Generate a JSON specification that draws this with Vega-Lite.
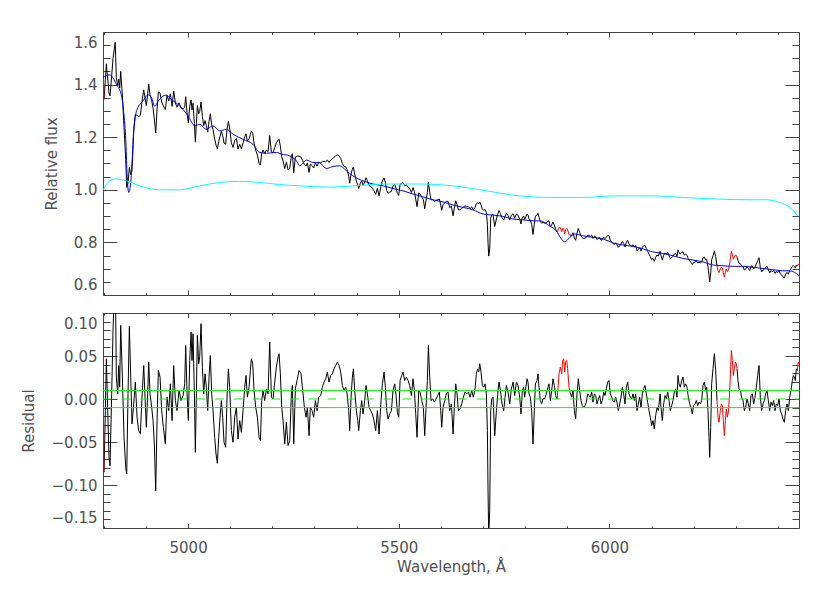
{
"$schema": "https://vega.github.io/schema/vega-lite/v6.json",
"background": "white",
"padding": {"left": 20, "top": 31, "right": 5, "bottom": 5},
"spacing": 16,
"config": {
"view": {"stroke": "#444444", "strokeWidth": 1},
"axis": {"domain": false, "grid": false, "tickColor": "#444444", "tickWidth": 1, "labelColor": "#505050", "titleColor": "#505050", "labelFont": "DejaVu Sans", "titleFont": "DejaVu Sans", "labelFontSize": 15, "titleFontSize": 15, "titleFontWeight": "normal", "labelOverlap": false}
},
"datasets": {
"obs": [
{"w":4798,"f":1.460,"r":0.033,"s":1},{"w":4800.5,"f":1.344,"r":-0.085,"s":1},
{"w":4800.5,"f":1.344,"r":-0.085,"s":2},{"w":4803.6,"f":1.418,"r":-0.0135,"s":2},{"w":4806.0,"f":1.479,"r":0.0468,"s":2},{"w":4809.2,"f":1.421,"r":-0.0135,"s":2},{"w":4812.3,"f":1.368,"r":-0.068,"s":2},{"w":4814.7,"f":1.357,"r":-0.0776,"s":2},{"w":4818.6,"f":1.433,"r":0.006,"s":2},{"w":4821.8,"f":1.499,"r":0.080,"s":2},{"w":4827.0,"f":1.561,"r":0.153,"s":2},{"w":4829.7,"f":1.427,"r":0.0254,"s":2},
{"w":4832.9,"f":1.396,"r":0.006,"s":2},{"w":4835.3,"f":1.421,"r":0.039,"s":2},{"w":4837.6,"f":1.387,"r":0.0137,"s":2},{"w":4840.0,"f":1.450,"r":0.0856,"s":2},{"w":4844.0,"f":1.357,"r":0.0254,"s":2},{"w":4847.9,"f":1.238,"r":-0.0445,"s":2},{"w":4851.9,"f":1.115,"r":-0.0795,"s":2},{"w":4854.3,"f":1.009,"r":-0.0873,"s":2},{"w":4857.4,"f":1.027,"r":0.006,"s":2},{"w":4860.6,"f":1.085,"r":0.0845,"s":2},
{"w":4863.8,"f":1.058,"r":0.0254,"s":2},{"w":4866.9,"f":1.073,"r":-0.029,"s":2},{"w":4870.9,"f":1.221,"r":-0.0057,"s":2},{"w":4874.8,"f":1.286,"r":0.0196,"s":2},{"w":4878.8,"f":1.283,"r":-0.0212,"s":2},{"w":4882.7,"f":1.278,"r":-0.0368,"s":2},{"w":4886.7,"f":1.283,"r":-0.0406,"s":2},{"w":4890.6,"f":1.335,"r":0.0021,"s":2},{"w":4894.6,"f":1.380,"r":0.039,"s":2},{"w":4897.8,"f":1.349,"r":0.0021,"s":2},
{"w":4900.9,"f":1.320,"r":-0.0329,"s":2},{"w":4904.1,"f":1.365,"r":0.006,"s":2},{"w":4906.5,"f":1.402,"r":0.0429,"s":2},{"w":4909.6,"f":1.361,"r":0.006,"s":2},{"w":4913.6,"f":1.339,"r":-0.0096,"s":2},{"w":4916.8,"f":1.310,"r":-0.0251,"s":2},{"w":4919.9,"f":1.269,"r":-0.0523,"s":2},{"w":4923.1,"f":1.216,"r":-0.1067,"s":2},{"w":4926.3,"f":1.306,"r":-0.0251,"s":2},{"w":4929.4,"f":1.372,"r":0.0332,"s":2},
{"w":4933.4,"f":1.368,"r":0.0254,"s":2},{"w":4937.3,"f":1.334,"r":-0.0135,"s":2},{"w":4941.3,"f":1.319,"r":-0.0329,"s":2},{"w":4946.0,"f":1.305,"r":-0.0523,"s":2},{"w":4950.0,"f":1.359,"r":0.0021,"s":2},{"w":4954.0,"f":1.338,"r":-0.0135,"s":2},{"w":4957.9,"f":1.365,"r":0.0176,"s":2},{"w":4961.9,"f":1.317,"r":-0.0251,"s":2},{"w":4965.8,"f":1.376,"r":0.039,"s":2},{"w":4969.8,"f":1.330,"r":-0.0018,"s":2},
{"w":4973.7,"f":1.314,"r":-0.0135,"s":2},{"w":4978.5,"f":1.331,"r":0.0099,"s":2},{"w":4983.2,"f":1.311,"r":-0.0018,"s":2},{"w":4988.0,"f":1.308,"r":0.004,"s":2},{"w":4991.9,"f":1.314,"r":0.0176,"s":2},{"w":4994.3,"f":1.354,"r":0.0623,"s":2},{"w":4997.5,"f":1.292,"r":0.006,"s":2},{"w":5000.6,"f":1.255,"r":-0.0251,"s":2},{"w":5003.8,"f":1.317,"r":0.0448,"s":2},{"w":5007.0,"f":1.342,"r":0.0778,"s":2},
{"w":5009.3,"f":1.304,"r":0.0448,"s":2},{"w":5011.7,"f":1.329,"r":0.0759,"s":2},{"w":5014.9,"f":1.252,"r":0.006,"s":2},{"w":5017.2,"f":1.182,"r":-0.062,"s":2},{"w":5019.6,"f":1.251,"r":0.006,"s":2},{"w":5022.0,"f":1.320,"r":0.074,"s":2},{"w":5025.1,"f":1.289,"r":0.041,"s":2},{"w":5027.5,"f":1.298,"r":0.0487,"s":2},{"w":5030.7,"f":1.334,"r":0.0876,"s":2},{"w":5033.9,"f":1.279,"r":0.037,"s":2},
{"w":5037.0,"f":1.244,"r":0.006,"s":2},{"w":5040.2,"f":1.263,"r":0.0293,"s":2},{"w":5043.3,"f":1.244,"r":0.0137,"s":2},{"w":5046.5,"f":1.219,"r":-0.0135,"s":2},{"w":5049.7,"f":1.260,"r":0.0254,"s":2},{"w":5052.8,"f":1.289,"r":0.0507,"s":2},{"w":5056.0,"f":1.247,"r":0.006,"s":2},{"w":5059.2,"f":1.229,"r":-0.0135,"s":2},{"w":5063.1,"f":1.194,"r":-0.0445,"s":2},{"w":5066.3,"f":1.170,"r":-0.064,"s":2},
{"w":5069.4,"f":1.156,"r":-0.0748,"s":2},{"w":5072.6,"f":1.183,"r":-0.0445,"s":2},{"w":5075.8,"f":1.203,"r":-0.0212,"s":2},{"w":5078.9,"f":1.223,"r":-0.0018,"s":2},{"w":5082.1,"f":1.206,"r":-0.0212,"s":2},{"w":5085.3,"f":1.178,"r":-0.0503,"s":2},{"w":5089.2,"f":1.173,"r":-0.0562,"s":2},{"w":5092.4,"f":1.230,"r":0.0021,"s":2},{"w":5095.6,"f":1.260,"r":0.0351,"s":2},{"w":5098.7,"f":1.235,"r":0.0137,"s":2},
{"w":5102.7,"f":1.179,"r":-0.0368,"s":2},{"w":5106.6,"f":1.161,"r":-0.0503,"s":2},{"w":5110.6,"f":1.187,"r":-0.0212,"s":2},{"w":5114.6,"f":1.195,"r":-0.0096,"s":2},{"w":5118.5,"f":1.155,"r":-0.0465,"s":2},{"w":5122.5,"f":1.173,"r":-0.0251,"s":2},{"w":5126.5,"f":1.156,"r":-0.0387,"s":2},{"w":5130.4,"f":1.178,"r":-0.0135,"s":2},{"w":5134.4,"f":1.202,"r":0.0137,"s":2},{"w":5137.5,"f":1.213,"r":0.0273,"s":2},
{"w":5140.7,"f":1.185,"r":0.0021,"s":2},{"w":5144.7,"f":1.194,"r":0.0137,"s":2},{"w":5147.8,"f":1.211,"r":0.0332,"s":2},{"w":5150.2,"f":1.223,"r":0.0468,"s":2},{"w":5153.4,"f":1.215,"r":0.041,"s":2},{"w":5156.5,"f":1.178,"r":0.0099,"s":2},{"w":5160.5,"f":1.150,"r":-0.0096,"s":2},{"w":5164.4,"f":1.132,"r":-0.0212,"s":2},{"w":5168.4,"f":1.101,"r":-0.0445,"s":2},{"w":5171.6,"f":1.094,"r":-0.0484,"s":2},
{"w":5174.7,"f":1.139,"r":-0.0018,"s":2},{"w":5177.9,"f":1.151,"r":0.0099,"s":2},{"w":5181.8,"f":1.138,"r":-0.0018,"s":2},{"w":5185.8,"f":1.151,"r":0.0118,"s":2},{"w":5189.8,"f":1.145,"r":0.006,"s":2},{"w":5193.7,"f":1.206,"r":0.0662,"s":2},{"w":5197.7,"f":1.143,"r":0.0021,"s":2},{"w":5201.6,"f":1.141,"r":0.0001,"s":2},{"w":5205.6,"f":1.161,"r":0.0196,"s":2},{"w":5209.5,"f":1.179,"r":0.0371,"s":2},
{"w":5213.5,"f":1.189,"r":0.0487,"s":2},{"w":5215.9,"f":1.192,"r":0.0526,"s":2},{"w":5219.0,"f":1.166,"r":0.0293,"s":2},{"w":5222.2,"f":1.126,"r":-0.0096,"s":2},{"w":5225.4,"f":1.109,"r":-0.0251,"s":2},{"w":5229.3,"f":1.081,"r":-0.0523,"s":2},{"w":5233.3,"f":1.105,"r":-0.027,"s":2},{"w":5237.2,"f":1.076,"r":-0.0542,"s":2},{"w":5241.2,"f":1.081,"r":-0.0484,"s":2},{"w":5245.1,"f":1.130,"r":0.006,"s":2},
{"w":5247.5,"f":1.137,"r":0.0157,"s":2},{"w":5250.7,"f":1.065,"r":-0.0523,"s":2},{"w":5254.6,"f":1.125,"r":0.0118,"s":2},{"w":5258.6,"f":1.128,"r":0.0215,"s":2},{"w":5263.3,"f":1.128,"r":0.0332,"s":2},{"w":5268.1,"f":1.124,"r":0.0293,"s":2},{"w":5272.0,"f":1.111,"r":0.0099,"s":2},{"w":5276.0,"f":1.096,"r":-0.0096,"s":2},{"w":5279.9,"f":1.090,"r":-0.0212,"s":2},{"w":5283.1,"f":1.102,"r":-0.0096,"s":2},
{"w":5287.1,"f":1.066,"r":-0.0426,"s":2},{"w":5290.2,"f":1.098,"r":-0.0096,"s":2},{"w":5294.2,"f":1.092,"r":-0.0135,"s":2},{"w":5298.1,"f":1.083,"r":-0.0212,"s":2},{"w":5302.1,"f":1.102,"r":-0.0018,"s":2},{"w":5306.1,"f":1.090,"r":-0.0135,"s":2},{"w":5310.0,"f":1.105,"r":0.0021,"s":2},{"w":5314.8,"f":1.103,"r":0.004,"s":2},{"w":5318.7,"f":1.108,"r":0.0137,"s":2},{"w":5322.7,"f":1.108,"r":0.0196,"s":2},
{"w":5326.6,"f":1.107,"r":0.0235,"s":2},{"w":5330.6,"f":1.113,"r":0.0312,"s":2},{"w":5334.5,"f":1.104,"r":0.0196,"s":2},{"w":5338.5,"f":1.113,"r":0.0273,"s":2},{"w":5342.4,"f":1.117,"r":0.0293,"s":2},{"w":5346.4,"f":1.124,"r":0.0351,"s":2},{"w":5350.4,"f":1.129,"r":0.039,"s":2},{"w":5354.3,"f":1.133,"r":0.0429,"s":2},{"w":5358.3,"f":1.130,"r":0.039,"s":2},{"w":5362.2,"f":1.119,"r":0.0312,"s":2},
{"w":5366.2,"f":1.100,"r":0.0157,"s":2},{"w":5370.1,"f":1.089,"r":0.0099,"s":2},{"w":5374.1,"f":1.088,"r":0.0137,"s":2},{"w":5377.3,"f":1.076,"r":0.006,"s":2},{"w":5381.2,"f":1.052,"r":-0.0135,"s":2},{"w":5383.6,"f":1.025,"r":-0.0368,"s":2},{"w":5386.8,"f":1.060,"r":0.0021,"s":2},{"w":5389.9,"f":1.079,"r":0.0254,"s":2},{"w":5392.3,"f":1.087,"r":0.0351,"s":2},{"w":5395.5,"f":1.059,"r":0.0099,"s":2},
{"w":5399.4,"f":1.033,"r":-0.0135,"s":2},{"w":5402.6,"f":1.019,"r":-0.0251,"s":2},{"w":5405.0,"f":1.005,"r":-0.0368,"s":2},{"w":5408.9,"f":1.026,"r":-0.0135,"s":2},{"w":5412.1,"f":1.034,"r":-0.0018,"s":2},{"w":5415.2,"f":1.017,"r":-0.0173,"s":2},{"w":5419.2,"f":1.030,"r":-0.0018,"s":2},{"w":5422.4,"f":1.046,"r":0.0157,"s":2},{"w":5425.5,"f":1.035,"r":0.006,"s":2},{"w":5429.5,"f":1.017,"r":-0.0096,"s":2},
{"w":5433.4,"f":1.012,"r":-0.0135,"s":2},{"w":5437.4,"f":1.006,"r":-0.0173,"s":2},{"w":5441.3,"f":0.996,"r":-0.0251,"s":2},{"w":5445.3,"f":0.983,"r":-0.0368,"s":2},{"w":5449.3,"f":1.006,"r":-0.0135,"s":2},{"w":5453.2,"f":0.977,"r":-0.0406,"s":2},{"w":5458.0,"f":1.014,"r":-0.0018,"s":2},{"w":5461.1,"f":1.034,"r":0.0176,"s":2},{"w":5465.1,"f":1.045,"r":0.0312,"s":2},{"w":5468.3,"f":1.027,"r":0.0137,"s":2},
{"w":5471.4,"f":0.998,"r":-0.0135,"s":2},{"w":5474.6,"f":0.987,"r":-0.0232,"s":2},{"w":5478.5,"f":0.991,"r":-0.0173,"s":2},{"w":5482.5,"f":0.994,"r":-0.0135,"s":2},{"w":5486.4,"f":1.015,"r":0.0099,"s":2},{"w":5490.4,"f":1.021,"r":0.0176,"s":2},{"w":5493.6,"f":1.006,"r":0.004,"s":2},{"w":5496.7,"f":0.986,"r":-0.0154,"s":2},{"w":5499.9,"f":0.979,"r":-0.0212,"s":2},{"w":5503.1,"f":1.021,"r":0.0215,"s":2},
{"w":5507.0,"f":1.024,"r":0.0273,"s":2},{"w":5510.2,"f":1.027,"r":0.0312,"s":2},{"w":5514.1,"f":1.016,"r":0.0215,"s":2},{"w":5518.1,"f":1.017,"r":0.0254,"s":2},{"w":5522.1,"f":1.012,"r":0.0215,"s":2},{"w":5526.0,"f":1.004,"r":0.0157,"s":2},{"w":5530.0,"f":0.990,"r":0.004,"s":2},{"w":5533.9,"f":1.008,"r":0.0235,"s":2},{"w":5537.1,"f":0.993,"r":0.0099,"s":2},{"w":5540.3,"f":0.964,"r":-0.0173,"s":2},
{"w":5543.4,"f":0.936,"r":-0.0445,"s":2},{"w":5547.4,"f":0.988,"r":0.0099,"s":2},{"w":5550.5,"f":0.984,"r":0.008,"s":2},{"w":5554.5,"f":0.973,"r":-0.0018,"s":2},{"w":5558.4,"f":0.963,"r":-0.0096,"s":2},{"w":5561.6,"f":0.928,"r":-0.0426,"s":2},{"w":5564.8,"f":0.960,"r":-0.0096,"s":2},{"w":5567.9,"f":0.990,"r":0.0215,"s":2},{"w":5570.3,"f":1.029,"r":0.0623,"s":2},{"w":5573.5,"f":0.991,"r":0.0254,"s":2},
{"w":5576.6,"f":0.962,"r":-0.0018,"s":2},{"w":5580.6,"f":0.962,"r":0.0001,"s":2},{"w":5584.6,"f":0.957,"r":-0.0037,"s":2},{"w":5588.5,"f":0.960,"r":0.0001,"s":2},{"w":5592.5,"f":0.962,"r":0.004,"s":2},{"w":5596.4,"f":0.965,"r":0.008,"s":2},{"w":5599.6,"f":0.942,"r":-0.0135,"s":2},{"w":5602.0,"f":0.922,"r":-0.0329,"s":2},{"w":5605.1,"f":0.944,"r":-0.0096,"s":2},{"w":5609.1,"f":0.950,"r":-0.0018,"s":2},
{"w":5613.0,"f":0.956,"r":0.006,"s":2},{"w":5617.0,"f":0.956,"r":0.008,"s":2},{"w":5621.0,"f":0.932,"r":-0.0135,"s":2},{"w":5624.9,"f":0.938,"r":-0.0057,"s":2},{"w":5628.9,"f":0.901,"r":-0.0406,"s":2},{"w":5632.0,"f":0.931,"r":-0.0096,"s":2},{"w":5635.2,"f":0.958,"r":0.0176,"s":2},{"w":5638.4,"f":0.944,"r":0.006,"s":2},{"w":5641.5,"f":0.924,"r":-0.0135,"s":2},{"w":5645.5,"f":0.924,"r":-0.0115,"s":2},
{"w":5649.4,"f":0.928,"r":-0.0057,"s":2},{"w":5653.4,"f":0.935,"r":0.0021,"s":2},{"w":5657.3,"f":0.939,"r":0.008,"s":2},{"w":5661.3,"f":0.936,"r":0.006,"s":2},{"w":5665.3,"f":0.936,"r":0.008,"s":2},{"w":5669.2,"f":0.929,"r":0.0021,"s":2},{"w":5673.2,"f":0.935,"r":0.0099,"s":2},{"w":5677.1,"f":0.925,"r":0.0021,"s":2},{"w":5681.1,"f":0.933,"r":0.0118,"s":2},{"w":5684.2,"f":0.948,"r":0.0293,"s":2},
{"w":5687.4,"f":0.951,"r":0.0351,"s":2},{"w":5689.8,"f":0.946,"r":0.0312,"s":2},{"w":5692.2,"f":0.954,"r":0.041,"s":2},{"w":5695.3,"f":0.942,"r":0.0312,"s":2},{"w":5698.5,"f":0.925,"r":0.0157,"s":2},{"w":5701.6,"f":0.922,"r":0.0137,"s":2},{"w":5704.8,"f":0.925,"r":0.0176,"s":2},{"w":5708.0,"f":0.913,"r":0.006,"s":2},{"w":5710.4,"f":0.869,"r":-0.0368,"s":2},{"w":5711.9,"f":0.799,"r":-0.1067,"s":2},
{"w":5713.5,"f":0.748,"r":-0.158,"s":2},{"w":5715.9,"f":0.775,"r":-0.130,"s":2},{"w":5718.3,"f":0.892,"r":-0.0135,"s":2},{"w":5720.6,"f":0.905,"r":0.0001,"s":2},{"w":5723.8,"f":0.906,"r":0.0021,"s":2},{"w":5727.8,"f":0.860,"r":-0.0426,"s":2},{"w":5731.7,"f":0.889,"r":-0.0135,"s":2},{"w":5735.7,"f":0.911,"r":0.0099,"s":2},{"w":5738.0,"f":0.921,"r":0.0196,"s":2},{"w":5741.2,"f":0.910,"r":0.0099,"s":2},
{"w":5745.2,"f":0.893,"r":-0.0057,"s":2},{"w":5749.1,"f":0.885,"r":-0.0135,"s":2},{"w":5752.3,"f":0.899,"r":0.0021,"s":2},{"w":5755.5,"f":0.911,"r":0.0157,"s":2},{"w":5759.4,"f":0.902,"r":0.008,"s":2},{"w":5763.4,"f":0.886,"r":-0.0057,"s":2},{"w":5767.3,"f":0.903,"r":0.0118,"s":2},{"w":5771.3,"f":0.909,"r":0.0196,"s":2},{"w":5775.2,"f":0.892,"r":0.004,"s":2},{"w":5779.2,"f":0.908,"r":0.0196,"s":2},
{"w":5783.1,"f":0.903,"r":0.0157,"s":2},{"w":5787.1,"f":0.889,"r":0.0021,"s":2},{"w":5790.2,"f":0.870,"r":-0.0173,"s":2},{"w":5793.3,"f":0.896,"r":0.0099,"s":2},{"w":5796.5,"f":0.900,"r":0.0137,"s":2},{"w":5798.9,"f":0.887,"r":0.0021,"s":2},{"w":5801.2,"f":0.897,"r":0.0118,"s":2},{"w":5804.4,"f":0.908,"r":0.0235,"s":2},{"w":5806.8,"f":0.904,"r":0.0196,"s":2},{"w":5809.2,"f":0.890,"r":0.006,"s":2},
{"w":5812.3,"f":0.885,"r":0.0021,"s":2},{"w":5815.5,"f":0.869,"r":-0.0135,"s":2},{"w":5818.6,"f":0.830,"r":-0.0523,"s":2},{"w":5821.8,"f":0.869,"r":-0.0135,"s":2},{"w":5824.2,"f":0.900,"r":0.0176,"s":2},{"w":5828.1,"f":0.904,"r":0.0215,"s":2},{"w":5830.5,"f":0.911,"r":0.0293,"s":2},{"w":5832.9,"f":0.896,"r":0.0137,"s":2},{"w":5836.1,"f":0.879,"r":-0.0018,"s":2},{"w":5839.2,"f":0.873,"r":-0.0057,"s":2},
{"w":5842.4,"f":0.876,"r":0.0001,"s":2},{"w":5846.3,"f":0.873,"r":0.0001,"s":2},{"w":5850.3,"f":0.875,"r":0.006,"s":2},{"w":5854.3,"f":0.880,"r":0.0137,"s":2},{"w":5856.6,"f":0.882,"r":0.0176,"s":2},{"w":5859.8,"f":0.859,"r":-0.0018,"s":2},{"w":5863.0,"f":0.867,"r":0.0099,"s":2},{"w":5866.1,"f":0.877,"r":0.0235,"s":2},{"w":5869.3,"f":0.866,"r":0.0157,"s":2},{"w":5872.4,"f":0.850,"r":0.004,"s":2},
{"w":5875.6,"f":0.840,"r":0.0001,"s":2},{"w":5876.4,"f":0.840,"r":0.0021,"s":2},
{"w":5876.4,"f":0.840,"r":0.0021,"s":3},{"w":5880.4,"f":0.857,"r":0.0293,"s":3},{"w":5883.5,"f":0.856,"r":0.0371,"s":3},{"w":5886.7,"f":0.841,"r":0.0293,"s":3},{"w":5889.1,"f":0.853,"r":0.0448,"s":3},{"w":5891.4,"f":0.852,"r":0.0468,"s":3},{"w":5893.8,"f":0.833,"r":0.0312,"s":3},{"w":5896.2,"f":0.848,"r":0.0429,"s":3},{"w":5898.6,"f":0.853,"r":0.0448,"s":3},{"w":5900.9,"f":0.847,"r":0.0351,"s":3},{"w":5904.1,"f":0.830,"r":0.0137,"s":3},{"w":5906.5,"f":0.828,"r":0.008,"s":3},
{"w":5906.5,"f":0.828,"r":0.008,"s":4},{"w":5910.4,"f":0.826,"r":0.0021,"s":4},{"w":5913.6,"f":0.837,"r":0.0099,"s":4},{"w":5916.8,"f":0.817,"r":-0.0135,"s":4},{"w":5919.9,"f":0.808,"r":-0.0232,"s":4},{"w":5923.1,"f":0.836,"r":0.006,"s":4},{"w":5926.3,"f":0.853,"r":0.0235,"s":4},{"w":5929.4,"f":0.838,"r":0.0099,"s":4},{"w":5932.6,"f":0.825,"r":-0.0018,"s":4},{"w":5935.7,"f":0.817,"r":-0.0076,"s":4},
{"w":5938.9,"f":0.815,"r":-0.0096,"s":4},{"w":5942.1,"f":0.816,"r":-0.0076,"s":4},{"w":5945.2,"f":0.819,"r":-0.0037,"s":4},{"w":5948.4,"f":0.828,"r":0.006,"s":4},{"w":5951.6,"f":0.826,"r":0.004,"s":4},{"w":5954.7,"f":0.823,"r":0.0021,"s":4},{"w":5957.9,"f":0.828,"r":0.008,"s":4},{"w":5961.1,"f":0.815,"r":-0.0037,"s":4},{"w":5964.2,"f":0.824,"r":0.006,"s":4},{"w":5967.4,"f":0.821,"r":0.004,"s":4},
{"w":5970.6,"f":0.811,"r":-0.0057,"s":4},{"w":5973.7,"f":0.816,"r":0.0001,"s":4},{"w":5976.9,"f":0.819,"r":0.004,"s":4},{"w":5980.1,"f":0.808,"r":-0.0057,"s":4},{"w":5983.2,"f":0.811,"r":-0.0018,"s":4},{"w":5986.4,"f":0.820,"r":0.008,"s":4},{"w":5989.5,"f":0.814,"r":0.004,"s":4},{"w":5992.7,"f":0.820,"r":0.0118,"s":4},{"w":5995.9,"f":0.826,"r":0.0196,"s":4},{"w":5999.0,"f":0.826,"r":0.0215,"s":4},
{"w":6002.2,"f":0.808,"r":0.006,"s":4},{"w":6005.4,"f":0.802,"r":0.0021,"s":4},{"w":6008.5,"f":0.796,"r":-0.0018,"s":4},{"w":6011.7,"f":0.793,"r":-0.0037,"s":4},{"w":6014.9,"f":0.798,"r":0.0021,"s":4},{"w":6018.0,"f":0.791,"r":-0.0037,"s":4},{"w":6021.2,"f":0.781,"r":-0.0135,"s":4},{"w":6024.4,"f":0.787,"r":-0.0057,"s":4},{"w":6027.5,"f":0.794,"r":0.0021,"s":4},{"w":6030.7,"f":0.804,"r":0.0137,"s":4},
{"w":6033.8,"f":0.796,"r":0.006,"s":4},{"w":6037.0,"f":0.783,"r":-0.0057,"s":4},{"w":6040.2,"f":0.802,"r":0.0137,"s":4},{"w":6043.3,"f":0.808,"r":0.0196,"s":4},{"w":6046.5,"f":0.793,"r":0.006,"s":4},{"w":6049.7,"f":0.788,"r":0.0021,"s":4},{"w":6052.8,"f":0.786,"r":0.0001,"s":4},{"w":6056.0,"f":0.791,"r":0.006,"s":4},{"w":6059.2,"f":0.782,"r":-0.0018,"s":4},{"w":6062.3,"f":0.788,"r":0.006,"s":4},
{"w":6065.5,"f":0.768,"r":-0.0135,"s":4},{"w":6068.7,"f":0.774,"r":-0.0057,"s":4},{"w":6071.8,"f":0.780,"r":0.0021,"s":4},{"w":6075.0,"f":0.767,"r":-0.0096,"s":4},{"w":6078.2,"f":0.782,"r":0.006,"s":4},{"w":6081.3,"f":0.786,"r":0.0118,"s":4},{"w":6084.5,"f":0.789,"r":0.0157,"s":4},{"w":6087.7,"f":0.777,"r":0.006,"s":4},{"w":6090.8,"f":0.766,"r":-0.0037,"s":4},{"w":6094.0,"f":0.755,"r":-0.0135,"s":4},
{"w":6097.1,"f":0.746,"r":-0.0212,"s":4},{"w":6100.3,"f":0.734,"r":-0.0309,"s":4},{"w":6103.5,"f":0.739,"r":-0.0251,"s":4},{"w":6106.6,"f":0.728,"r":-0.0348,"s":4},{"w":6109.8,"f":0.743,"r":-0.0193,"s":4},{"w":6113.0,"f":0.752,"r":-0.0096,"s":4},{"w":6116.1,"f":0.748,"r":-0.0135,"s":4},{"w":6120.3,"f":0.766,"r":0.006,"s":4},{"w":6122.5,"f":0.749,"r":-0.0096,"s":4},{"w":6125.6,"f":0.733,"r":-0.0251,"s":4},
{"w":6128.8,"f":0.751,"r":-0.0057,"s":4},{"w":6132.0,"f":0.760,"r":0.004,"s":4},{"w":6135.1,"f":0.755,"r":0.0001,"s":4},{"w":6138.3,"f":0.762,"r":0.008,"s":4},{"w":6141.5,"f":0.750,"r":-0.0018,"s":4},{"w":6144.6,"f":0.738,"r":-0.0135,"s":4},{"w":6147.8,"f":0.742,"r":-0.0076,"s":4},{"w":6150.9,"f":0.747,"r":-0.0018,"s":4},{"w":6154.1,"f":0.756,"r":0.008,"s":4},{"w":6157.3,"f":0.758,"r":0.0118,"s":4},
{"w":6160.4,"f":0.747,"r":0.0021,"s":4},{"w":6162.8,"f":0.771,"r":0.0273,"s":4},{"w":6165.2,"f":0.761,"r":0.0176,"s":4},{"w":6168.4,"f":0.756,"r":0.0137,"s":4},{"w":6171.5,"f":0.762,"r":0.0215,"s":4},{"w":6174.7,"f":0.764,"r":0.0254,"s":4},{"w":6177.8,"f":0.752,"r":0.0137,"s":4},{"w":6181.0,"f":0.755,"r":0.0176,"s":4},{"w":6184.2,"f":0.751,"r":0.0137,"s":4},{"w":6187.3,"f":0.738,"r":0.0021,"s":4},
{"w":6190.5,"f":0.729,"r":-0.0057,"s":4},{"w":6193.7,"f":0.724,"r":-0.0096,"s":4},{"w":6196.8,"f":0.716,"r":-0.0173,"s":4},{"w":6200.0,"f":0.724,"r":-0.0076,"s":4},{"w":6203.2,"f":0.725,"r":-0.0057,"s":4},{"w":6206.3,"f":0.729,"r":-0.0018,"s":4},{"w":6209.5,"f":0.722,"r":-0.0076,"s":4},{"w":6212.7,"f":0.725,"r":-0.0037,"s":4},{"w":6215.8,"f":0.722,"r":-0.0057,"s":4},{"w":6219.0,"f":0.725,"r":-0.0018,"s":4},
{"w":6222.2,"f":0.742,"r":0.0157,"s":4},{"w":6225.3,"f":0.744,"r":0.0196,"s":4},{"w":6228.5,"f":0.733,"r":0.0099,"s":4},{"w":6230.9,"f":0.736,"r":0.0137,"s":4},{"w":6234.0,"f":0.707,"r":-0.0135,"s":4},{"w":6236.4,"f":0.675,"r":-0.0445,"s":4},{"w":6238.0,"f":0.650,"r":-0.068,"s":4},{"w":6240.4,"f":0.684,"r":-0.0329,"s":4},{"w":6242.7,"f":0.734,"r":0.0176,"s":4},{"w":6245.9,"f":0.749,"r":0.0351,"s":4},
{"w":6249.1,"f":0.767,"r":0.0526,"s":4},{"w":6252.2,"f":0.746,"r":0.0332,"s":4},{"w":6255.4,"f":0.711,"r":-0.0018,"s":4},
{"w":6255.4,"f":0.711,"r":-0.0018,"s":5},{"w":6257.8,"f":0.692,"r":-0.0212,"s":5},{"w":6260.1,"f":0.685,"r":-0.027,"s":5},{"w":6263.3,"f":0.699,"r":-0.0135,"s":5},{"w":6265.7,"f":0.706,"r":-0.0057,"s":5},{"w":6268.0,"f":0.703,"r":-0.0076,"s":5},{"w":6270.4,"f":0.686,"r":-0.0251,"s":5},{"w":6272.8,"f":0.668,"r":-0.0426,"s":5},{"w":6275.2,"f":0.686,"r":-0.0251,"s":5},{"w":6277.5,"f":0.699,"r":-0.0115,"s":5},
{"w":6279.9,"f":0.689,"r":-0.0212,"s":5},{"w":6282.3,"f":0.695,"r":-0.0154,"s":5},{"w":6284.7,"f":0.712,"r":0.0021,"s":5},{"w":6287.0,"f":0.735,"r":0.0254,"s":5},{"w":6289.4,"f":0.766,"r":0.0565,"s":5},{"w":6291.8,"f":0.754,"r":0.0448,"s":5},{"w":6294.2,"f":0.736,"r":0.0273,"s":5},{"w":6296.5,"f":0.744,"r":0.0351,"s":5},{"w":6298.9,"f":0.752,"r":0.0429,"s":5},{"w":6301.3,"f":0.750,"r":0.041,"s":5},{"w":6302.9,"f":0.744,"r":0.0351,"s":5},
{"w":6302.9,"f":0.744,"r":0.0351,"s":6},{"w":6305.2,"f":0.731,"r":0.0215,"s":6},{"w":6307.6,"f":0.721,"r":0.0118,"s":6},{"w":6310.8,"f":0.719,"r":0.0099,"s":6},{"w":6313.9,"f":0.711,"r":0.0021,"s":6},{"w":6317.1,"f":0.707,"r":-0.0018,"s":6},{"w":6320.3,"f":0.695,"r":-0.0135,"s":6},{"w":6323.4,"f":0.698,"r":-0.0096,"s":6},{"w":6326.6,"f":0.707,"r":0.0001,"s":6},{"w":6329.8,"f":0.701,"r":-0.0057,"s":6},
{"w":6332.9,"f":0.693,"r":-0.0135,"s":6},{"w":6336.1,"f":0.710,"r":0.004,"s":6},{"w":6339.2,"f":0.711,"r":0.006,"s":6},{"w":6342.4,"f":0.699,"r":-0.0057,"s":6},{"w":6345.6,"f":0.706,"r":0.0021,"s":6},{"w":6348.7,"f":0.718,"r":0.0137,"s":6},{"w":6351.9,"f":0.730,"r":0.0273,"s":6},{"w":6355.1,"f":0.742,"r":0.039,"s":6},{"w":6358.2,"f":0.704,"r":0.0021,"s":6},{"w":6361.4,"f":0.688,"r":-0.0135,"s":6},
{"w":6364.6,"f":0.695,"r":-0.0057,"s":6},{"w":6367.7,"f":0.698,"r":-0.0018,"s":6},{"w":6370.9,"f":0.706,"r":0.006,"s":6},{"w":6374.1,"f":0.709,"r":0.0099,"s":6},{"w":6377.2,"f":0.696,"r":-0.0018,"s":6},{"w":6380.4,"f":0.684,"r":-0.0135,"s":6},{"w":6383.6,"f":0.693,"r":-0.0037,"s":6},{"w":6386.7,"f":0.688,"r":-0.0076,"s":6},{"w":6389.9,"f":0.694,"r":-0.0018,"s":6},{"w":6393.1,"f":0.682,"r":-0.0135,"s":6},
{"w":6396.2,"f":0.689,"r":-0.0057,"s":6},{"w":6399.4,"f":0.686,"r":-0.0076,"s":6},{"w":6402.5,"f":0.694,"r":0.0001,"s":6},{"w":6405.7,"f":0.680,"r":-0.0135,"s":6},{"w":6408.9,"f":0.676,"r":-0.0173,"s":6},{"w":6412.0,"f":0.669,"r":-0.0232,"s":6},{"w":6415.2,"f":0.665,"r":-0.027,"s":6},{"w":6418.4,"f":0.679,"r":-0.0135,"s":6},{"w":6421.5,"f":0.686,"r":-0.0057,"s":6},{"w":6424.7,"f":0.679,"r":-0.0135,"s":6},
{"w":6427.9,"f":0.694,"r":0.0021,"s":6},{"w":6431.0,"f":0.700,"r":0.0099,"s":6},{"w":6434.2,"f":0.709,"r":0.0215,"s":6},{"w":6436.6,"f":0.712,"r":0.0273,"s":6},{"w":6438.9,"f":0.708,"r":0.0254,"s":6},{"w":6441.3,"f":0.703,"r":0.0215,"s":6},{"w":6443.7,"f":0.714,"r":0.0351,"s":6},{"w":6446.1,"f":0.710,"r":0.0332,"s":6},
{"w":6446.1,"f":0.710,"r":0.0332,"s":7},{"w":6448.5,"f":0.718,"r":0.0429,"s":7},{"w":6449.5,"f":0.715,"r":0.041,"s":7}
],
"model": [
{"w":4798,"f":1.427},{"w":4814,"f":1.437},{"w":4830,"f":1.401},{"w":4842,"f":1.357},{"w":4848,"f":1.281},{"w":4852,"f":1.192},{"w":4855,"f":1.067},{"w":4859,"f":0.990},{"w":4863,"f":1.015},{"w":4867,"f":1.105},{"w":4871,"f":1.230},{"w":4879,"f":1.306},{"w":4893,"f":1.338},{"w":4905,"f":1.361},{"w":4913,"f":1.351},{"w":4921,"f":1.317},{"w":4929,"f":1.338},{"w":4948,"f":1.360},{"w":4960,"f":1.344},{"w":4980,"f":1.319},
{"w":5000,"f":1.281},{"w":5016,"f":1.243},{"w":5028,"f":1.249},{"w":5043,"f":1.230},{"w":5059,"f":1.243},{"w":5075,"f":1.224},{"w":5091,"f":1.230},{"w":5107,"f":1.211},{"w":5130,"f":1.192},{"w":5154,"f":1.173},{"w":5170,"f":1.142},{"w":5186,"f":1.139},{"w":5210,"f":1.142},{"w":5221,"f":1.136},{"w":5241,"f":1.129},{"w":5257,"f":1.110},{"w":5265,"f":1.091},{"w":5281,"f":1.113},{"w":5296,"f":1.104},{"w":5312,"f":1.103},
{"w":5328,"f":1.081},{"w":5344,"f":1.089},{"w":5360,"f":1.091},{"w":5376,"f":1.072},{"w":5391,"f":1.053},{"w":5415,"f":1.034},{"w":5439,"f":1.022},{"w":5463,"f":1.015},{"w":5486,"f":1.005},{"w":5510,"f":0.996},{"w":5534,"f":0.984},{"w":5558,"f":0.973},{"w":5581,"f":0.962},{"w":5605,"f":0.954},{"w":5629,"f":0.942},{"w":5653,"f":0.933},{"w":5676,"f":0.924},{"w":5700,"f":0.908},{"w":5724,"f":0.904},{"w":5747,"f":0.899},
{"w":5771,"f":0.889},{"w":5795,"f":0.886},{"w":5819,"f":0.882},{"w":5835,"f":0.882},{"w":5858,"f":0.863},{"w":5874,"f":0.844},{"w":5886,"f":0.813},{"w":5894,"f":0.802},{"w":5906,"f":0.819},{"w":5918,"f":0.832},{"w":5937,"f":0.825},{"w":5961,"f":0.819},{"w":5985,"f":0.813},{"w":6009,"f":0.798},{"w":6032,"f":0.790},{"w":6056,"f":0.785},{"w":6080,"f":0.775},{"w":6103,"f":0.764},{"w":6127,"f":0.758},{"w":6151,"f":0.749},
{"w":6175,"f":0.739},{"w":6198,"f":0.733},{"w":6222,"f":0.726},{"w":6246,"f":0.714},{"w":6270,"f":0.711},{"w":6293,"f":0.709},{"w":6317,"f":0.709},{"w":6341,"f":0.705},{"w":6365,"f":0.701},{"w":6388,"f":0.696},{"w":6412,"f":0.692},{"w":6428,"f":0.692},{"w":6450,"f":0.674}
],
"poly": [
{"w":4798,"f":0.999},{"w":4814,"f":1.034},{"w":4830,"f":1.041},{"w":4854,"f":1.034},{"w":4885,"f":1.015},{"w":4933,"f":1.000},{"w":4980,"f":1.000},{"w":5028,"f":1.015},{"w":5075,"f":1.028},{"w":5122,"f":1.032},{"w":5170,"f":1.028},{"w":5217,"f":1.020},{"w":5265,"f":1.015},{"w":5336,"f":1.010},{"w":5391,"f":1.015},{"w":5471,"f":1.022},{"w":5550,"f":1.022},{"w":5629,"f":1.015},{"w":5708,"f":0.996},{"w":5787,"f":0.977},
{"w":5858,"f":0.971},{"w":5937,"f":0.971},{"w":6017,"f":0.977},{"w":6096,"f":0.977},{"w":6175,"f":0.971},{"w":6254,"f":0.965},{"w":6333,"f":0.962},{"w":6373,"f":0.962},{"w":6404,"f":0.952},{"w":6428,"f":0.933},{"w":6448,"f":0.899}
]
},
"vconcat": [
{
"width": 696, "height": 263,
"resolve": {"axis": {"x": "independent", "y": "independent"}},
"layer": [
{"data": {"name": "obs"}, "transform": [{"filter": "datum.s % 2 == 0"}],
 "mark": {"type": "line", "color": "#000000", "strokeWidth": 1, "clip": true},
 "encoding": {
  "x": {"field": "w", "type": "quantitative", "scale": {"domain": [4798, 6450], "nice": false, "zero": false}, "axis": {"orient": "bottom", "values": [5000, 5500, 6000], "labels": false, "title": null, "tickSize": 5, "offset": -5}},
  "y": {"field": "f", "type": "quantitative", "scale": {"domain": [0.6, 1.6], "nice": false, "zero": false}, "axis": {"orient": "left", "values": [0.6, 0.8, 1.0, 1.2, 1.4, 1.6], "format": ".1f", "tickSize": 14, "offset": -14, "labelPadding": 6, "labelFlush": true, "labelFlushOffset": -3, "title": "Relative flux", "titlePadding": 14}},
  "detail": {"field": "s", "type": "nominal"}
 }},
{"data": {"name": "obs"}, "transform": [{"filter": "datum.s % 2 == 1"}],
 "mark": {"type": "line", "color": "#ff0000", "strokeWidth": 1, "clip": true},
 "encoding": {
  "x": {"field": "w", "type": "quantitative", "axis": {"orient": "bottom", "values": [4800, 4900, 5100, 5200, 5300, 5400, 5600, 5700, 5800, 5900, 6100, 6200, 6300, 6400], "labels": false, "title": null, "tickSize": 2.5, "offset": -2.5}},
  "y": {"field": "f", "type": "quantitative", "axis": {"orient": "left", "values": [0.65, 0.7, 0.75, 0.85, 0.9, 0.95, 1.05, 1.1, 1.15, 1.25, 1.3, 1.35, 1.45, 1.5, 1.55], "labels": false, "title": null, "tickSize": 7, "offset": -7}},
  "detail": {"field": "s", "type": "nominal"}
 }},
{"data": {"name": "model"},
 "mark": {"type": "line", "color": "#0000ff", "strokeWidth": 1, "interpolate": "monotone", "clip": true},
 "encoding": {
  "x": {"field": "w", "type": "quantitative", "axis": {"orient": "top", "values": [5000, 5500, 6000], "labels": false, "title": null, "tickSize": 5, "offset": -5}},
  "y": {"field": "f", "type": "quantitative", "axis": {"orient": "right", "values": [0.6, 0.8, 1.0, 1.2, 1.4, 1.6], "labels": false, "title": null, "tickSize": 14, "offset": -14}}
 }},
{"data": {"name": "poly"},
 "mark": {"type": "line", "color": "#00ffff", "strokeWidth": 1, "interpolate": "monotone", "clip": true},
 "encoding": {
  "x": {"field": "w", "type": "quantitative", "axis": {"orient": "top", "values": [4800, 4900, 5100, 5200, 5300, 5400, 5600, 5700, 5800, 5900, 6100, 6200, 6300, 6400], "labels": false, "title": null, "tickSize": 2.5, "offset": -2.5}},
  "y": {"field": "f", "type": "quantitative", "axis": {"orient": "right", "values": [0.65, 0.7, 0.75, 0.85, 0.9, 0.95, 1.05, 1.1, 1.15, 1.25, 1.3, 1.35, 1.45, 1.5, 1.55], "labels": false, "title": null, "tickSize": 7, "offset": -7}}
 }}
]
},
{
"width": 696, "height": 215,
"resolve": {"axis": {"x": "independent", "y": "independent"}},
"layer": [
{"data": {"name": "obs"}, "transform": [{"filter": "datum.s % 2 == 0"}],
 "mark": {"type": "line", "color": "#000000", "strokeWidth": 1, "clip": true},
 "encoding": {
  "x": {"field": "w", "type": "quantitative", "scale": {"domain": [4798, 6450], "nice": false, "zero": false}, "axis": {"orient": "bottom", "values": [5000, 5500, 6000], "format": "d", "labelFlush": false, "tickSize": 4.5, "offset": -4.5, "labelPadding": 12, "title": "Wavelength, Å", "titlePadding": 4}},
  "y": {"field": "r", "type": "quantitative", "scale": {"domain": [-0.15, 0.10], "nice": false, "zero": false}, "axis": {"orient": "left", "values": [-0.15, -0.10, -0.05, 0, 0.05, 0.10], "format": ".2f", "tickSize": 14, "offset": -14, "labelPadding": 6, "labelFlush": true, "labelFlushOffset": -3, "title": "Residual", "titlePadding": 15}},
  "detail": {"field": "s", "type": "nominal"}
 }},
{"data": {"name": "obs"}, "transform": [{"filter": "datum.s % 2 == 1"}],
 "mark": {"type": "line", "color": "#ff0000", "strokeWidth": 1, "clip": true},
 "encoding": {
  "x": {"field": "w", "type": "quantitative", "axis": {"orient": "bottom", "values": [4800, 4900, 5100, 5200, 5300, 5400, 5600, 5700, 5800, 5900, 6100, 6200, 6300, 6400], "labels": false, "title": null, "tickSize": 2.2, "offset": -2.2}},
  "y": {"field": "r", "type": "quantitative", "axis": {"orient": "left", "values": [-0.14, -0.13, -0.12, -0.11, -0.09, -0.08, -0.07, -0.06, -0.04, -0.03, -0.02, -0.01, 0.01, 0.02, 0.03, 0.04, 0.06, 0.07, 0.08, 0.09], "labels": false, "title": null, "tickSize": 7, "offset": -7}},
  "detail": {"field": "s", "type": "nominal"}
 }},
{"data": {"values": [{"w": 4798, "v": 0.01, "b": "hi"}, {"w": 6450, "v": 0.01, "b": "hi"}, {"w": 4798, "v": -0.01, "b": "lo"}, {"w": 6450, "v": -0.01, "b": "lo"}]},
 "mark": {"type": "line", "color": "#00ff00", "strokeWidth": 1, "clip": true},
 "encoding": {
  "x": {"field": "w", "type": "quantitative", "axis": {"orient": "top", "values": [5000, 5500, 6000], "labels": false, "title": null, "tickSize": 4.5, "offset": -4.5}},
  "y": {"field": "v", "type": "quantitative", "axis": {"orient": "right", "values": [-0.15, -0.10, -0.05, 0, 0.05, 0.10], "labels": false, "title": null, "tickSize": 14, "offset": -14}},
  "detail": {"field": "b", "type": "nominal"}
 }},
{"data": {"values": [{"w": 4798, "v": 0}, {"w": 6450, "v": 0}]},
 "mark": {"type": "line", "color": "#00ff00", "strokeWidth": 1, "strokeDash": [8.7, 10], "clip": true},
 "encoding": {
  "x": {"field": "w", "type": "quantitative", "axis": {"orient": "top", "values": [4800, 4900, 5100, 5200, 5300, 5400, 5600, 5700, 5800, 5900, 6100, 6200, 6300, 6400], "labels": false, "title": null, "tickSize": 2.2, "offset": -2.2}},
  "y": {"field": "v", "type": "quantitative", "axis": {"orient": "right", "values": [-0.14, -0.13, -0.12, -0.11, -0.09, -0.08, -0.07, -0.06, -0.04, -0.03, -0.02, -0.01, 0.01, 0.02, 0.03, 0.04, 0.06, 0.07, 0.08, 0.09], "labels": false, "title": null, "tickSize": 7, "offset": -7}}
 }}
]
}
]
}
